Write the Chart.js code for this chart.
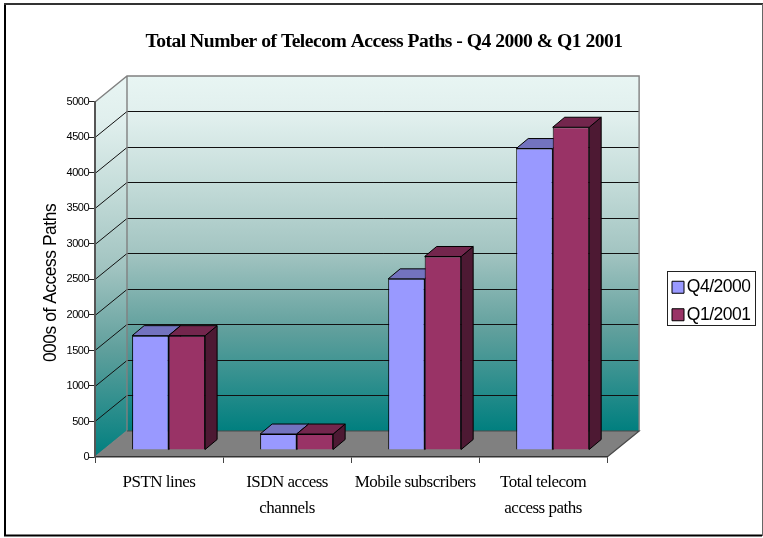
<!DOCTYPE html>
<html>
<head>
<meta charset="utf-8">
<title>Telecom access paths</title>
<style>html,body{margin:0;padding:0;background:#fff}canvas{display:block}</style>
<script src="https://cdn.jsdelivr.net/npm/chart.js@4/dist/chart.umd.js"></script>
</head>
<body>
<canvas id="c" width="763" height="538"></canvas>
<script>
const categories = ['PSTN lines', ['ISDN access', 'channels'], 'Mobile subscribers', ['Total telecom', 'access paths']];
const q4Values = [1610, 225, 2410, 4245];
const q1Values = [1610, 225, 2725, 4545];
const seriesNames = ['Q4/2000', 'Q1/2001'];
const maxValue = 5000;
const tickStep = 500;

// Oblique projection of the 3D box around the plot
const WALL_DX = 32, WALL_DY = 26;   // depth of the back wall
const BAR_DX = 9.6, BAR_DY = 7;     // bars stand slightly inside the floor
const BAR_DEPTH_X = 12, BAR_DEPTH_Y = 10;

function poly(ctx, pts, fill, stroke, width) {
  ctx.beginPath();
  pts.forEach((p, i) => i ? ctx.lineTo(p[0], p[1]) : ctx.moveTo(p[0], p[1]));
  ctx.closePath();
  if (fill) { ctx.fillStyle = fill; ctx.fill(); }
  if (stroke) { ctx.strokeStyle = stroke; ctx.lineWidth = width || 1; ctx.stroke(); }
}

function wallGradient(ctx, top, bottom) {
  const g = ctx.createLinearGradient(0, top, 0, bottom);
  g.addColorStop(0, '#e8f5f3');
  g.addColorStop(0.12, '#e0efed');
  g.addColorStop(0.3, '#c4dcd9');
  g.addColorStop(0.5, '#a2c4c1');
  g.addColorStop(0.72, '#5f9f9c');
  g.addColorStop(1, '#007f7f');
  return g;
}

const frame3d = {
  id: 'frame3d',
  beforeDraw(chart) {
    const ctx = chart.ctx;
    ctx.letterSpacing = '-0.5px';
    ctx.save();
    // page border: heavier on the left and bottom, lighter on the right
    ctx.strokeStyle = '#000';
    ctx.lineWidth = 2;
    ctx.beginPath();
    ctx.moveTo(5, 3); ctx.lineTo(5, 535.5); ctx.lineTo(762, 535.5);
    ctx.stroke();
    ctx.strokeStyle = '#333';
    ctx.beginPath();
    ctx.moveTo(4, 4); ctx.lineTo(763, 4);
    ctx.stroke();
    ctx.strokeStyle = '#666';
    ctx.lineWidth = 1;
    ctx.beginPath();
    ctx.moveTo(762.5, 4); ctx.lineTo(762.5, 536);
    ctx.stroke();
    ctx.restore();
  },
  afterLayout(chart) {
    // legend box and heading sit independently of the plot area
    const l = chart.legend;
    l.left = 662; l.right = 750.5; l.top = 255; l.bottom = 347;
    const t = chart.titleBlock;
    t.left = 5; t.right = 763;
    // nudge the rotated axis heading slightly down its axis
    const y = chart.scales.y;
    if (!y.$nudged) {
      const drawTitle = y.drawTitle;
      y.drawTitle = function () {
        chart.ctx.save();
        chart.ctx.translate(0, 3.5);
        drawTitle.call(this);
        chart.ctx.restore();
      };
      y.$nudged = true;
    }
  },
  beforeDatasetsDraw(chart) {
    const ctx = chart.ctx, a = chart.chartArea, y = chart.scales.y;
    const L = a.left, R = a.right, B = a.bottom, T = a.top;
    const BL = L + WALL_DX, BR = R + WALL_DX, BT = T - WALL_DY, BB = B - WALL_DY;
    ctx.save();
    // side wall, back wall, floor
    poly(ctx, [[L, T], [BL, BT], [BL, BB], [L, B]], wallGradient(ctx, BT, B));
    poly(ctx, [[BL, BT], [BR, BT], [BR, BB], [BL, BB]], wallGradient(ctx, BT, BB));
    poly(ctx, [[L, B], [BL, BB], [BR, BB], [R, B]], '#808080');
    // gridlines run along the side wall and across the back wall
    ctx.strokeStyle = '#111';
    ctx.lineWidth = 1;
    y.ticks.forEach(t => {
      if (t.value === 0 || t.value === maxValue) return;
      const py = Math.round(y.getPixelForValue(t.value)) + 0.5;
      ctx.beginPath();
      ctx.moveTo(L, py);
      ctx.lineTo(BL, py - WALL_DY);
      ctx.lineTo(BR, py - WALL_DY);
      ctx.stroke();
    });
    // wall outlines
    ctx.strokeStyle = '#808080';
    ctx.lineWidth = 1.4;
    ctx.beginPath();
    ctx.moveTo(L, T); ctx.lineTo(BL, BT); ctx.lineTo(BR, BT); ctx.lineTo(BR, BB);
    ctx.moveTo(BL, BT); ctx.lineTo(BL, BB); ctx.lineTo(L, B);
    ctx.stroke();
    ctx.strokeStyle = '#4a4a4a';
    ctx.lineWidth = 1.2;
    ctx.beginPath();
    ctx.moveTo(BL, BB); ctx.lineTo(BR, BB); ctx.lineTo(R, B);
    ctx.stroke();
    ctx.restore();

    // bars are shifted onto their floor line; side and top faces go underneath the fronts
    ctx.save();
    ctx.translate(BAR_DX, -BAR_DY);
    [0, 1].forEach(i => {
      const meta = chart.getDatasetMeta(i);
      const faces = [['#7373bf', '#4d4d80'], ['#73264d', '#4d1933']][i];
      meta.data.forEach(bar => {
        const x1 = bar.x - bar.width / 2, x2 = bar.x + bar.width / 2;
        const dx = BAR_DEPTH_X, dy = BAR_DEPTH_Y;
        poly(ctx, [[x2, bar.y], [x2 + dx, bar.y - dy], [x2 + dx, bar.base - dy], [x2, bar.base]], faces[1], '#000', 1);
        poly(ctx, [[x1, bar.y], [x1 + dx, bar.y - dy], [x2 + dx, bar.y - dy], [x2, bar.y]], faces[0], '#000', 1);
      });
    });
    // kept translated while the library paints the bar fronts
  },
  afterDatasetsDraw(chart) {
    chart.ctx.restore();
  },
  afterDraw(chart) {
    const ctx = chart.ctx;
    ctx.save();
    ctx.strokeStyle = '#222';
    ctx.lineWidth = 1;
    ctx.strokeRect(667.5, 271.5, 88, 54);
    ctx.restore();
  }
};

new Chart(document.getElementById('c'), {
  type: 'bar',
  data: {
    labels: categories,
    datasets: [
      { label: seriesNames[0], data: q4Values, backgroundColor: '#9999ff', borderColor: '#000', borderWidth: 1 },
      { label: seriesNames[1], data: q1Values, backgroundColor: '#993366', borderColor: '#000', borderWidth: 1 }
    ]
  },
  plugins: [frame3d],
  options: {
    responsive: false,
    animation: false,
    devicePixelRatio: 1,
    layout: { padding: { left: 0, top: 30, right: 48, bottom: 18 } },
    datasets: { bar: { categoryPercentage: 0.57, barPercentage: 1 } },
    scales: {
      x: {
        grid: { drawOnChartArea: false, drawTicks: true, tickLength: 6, tickColor: '#444', offset: true },
        border: { color: '#333', width: 1.5, z: 1 },
        ticks: { color: '#000', maxRotation: 0, autoSkip: false, padding: 7,
                 font: { family: 'Liberation Serif', size: 17, lineHeight: 1.52 } },
        afterFit(s) { s.height = 63; }
      },
      y: {
        min: 0, max: maxValue,
        grid: { drawOnChartArea: false, drawTicks: true, tickLength: 6, tickColor: '#222' },
        border: { color: '#555', width: 2, z: 1 },
        ticks: { stepSize: tickStep, color: '#000', padding: 0,
                 font: { family: 'Liberation Sans', size: 11 }, callback: v => String(v) },
        title: { display: true, text: '000s of Access Paths', color: '#000',
                 font: { family: 'Liberation Sans', size: 17.5 }, padding: { top: 41, bottom: 0 } },
        afterFit(s) { s.width = 95; }
      }
    },
    plugins: {
      tooltip: { enabled: false },
      title: { display: true, text: 'Total Number of Telecom Access Paths - Q4 2000 & Q1 2001', color: '#000',
               font: { family: 'Liberation Serif', size: 19.6, weight: 'bold', lineHeight: 1.17 },
               padding: { top: 0, bottom: 49 } },
      legend: {
        position: 'right', align: 'center',
        labels: { color: '#000', boxWidth: 12, boxHeight: 12, padding: 10, textAlign: 'right',
                  font: { family: 'Liberation Sans', size: 17.5 } }
      }
    }
  }
});
</script>
</body>
</html>
